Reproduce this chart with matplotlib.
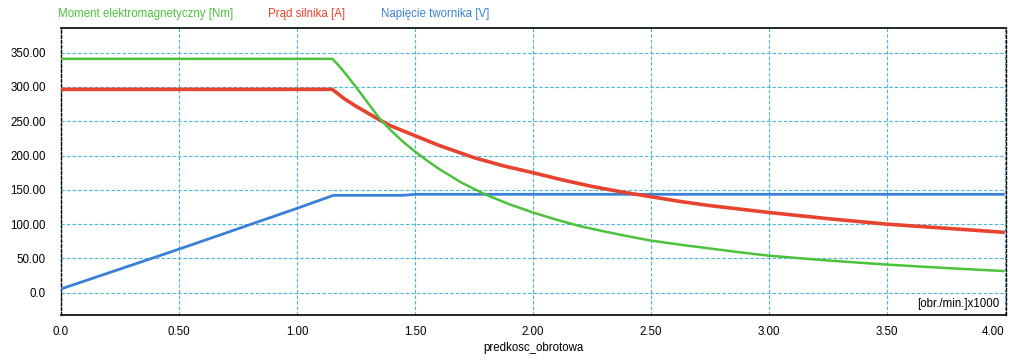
import matplotlib
matplotlib.use("Agg")
import matplotlib.pyplot as plt

plt.rcParams['font.family'] = ['Liberation Sans', 'DejaVu Sans']

# Moment elektromagnetyczny [Nm]
torque_x = [0.0, 1.15, 1.175, 1.2, 1.25, 1.3, 1.35, 1.4, 1.45, 1.5, 1.55, 1.6, 1.7, 1.8,
            1.9, 2.0, 2.1, 2.2, 2.3, 2.4, 2.5, 2.625, 2.75, 2.875, 3.0, 3.25,
            3.5, 3.75, 4.0]
torque_y = [341, 341, 332, 322, 300, 277, 254, 236, 220, 206, 193, 181, 160, 143,
            129, 117, 106.5, 97, 89.5, 82.5, 76, 70, 64.5, 59, 54, 47,
            41, 36, 31.5]

# Prąd silnika [A]
current_x = [0.0, 1.15, 1.2, 1.25, 1.3, 1.35, 1.4, 1.5, 1.6, 1.75, 1.875, 2.0, 2.125,
             2.25, 2.375, 2.5, 2.625, 2.75, 2.875, 3.0, 3.25, 3.5, 3.75, 4.0]
current_y = [296.5, 296.5, 283, 272, 262, 252, 243, 229, 215, 197, 185, 175, 164.5,
             155, 147, 140, 133, 127, 122, 117, 108, 100, 94, 88]

# Napięcie twornika [V]
voltage_x = [0.0, 0.5, 1.0, 1.155, 1.45, 1.5, 4.0]
voltage_y = [5.5, 63.5, 123, 142, 142, 143.5, 143.5]

xticks = [0.0, 0.5, 1.0, 1.5, 2.0, 2.5, 3.0, 3.5, 4.0]
xtick_labels = ["0.0", "0.50", "1.00", "1.50", "2.00", "2.50", "3.00", "3.50", "4.00"]
yticks = [0, 50, 100, 150, 200, 250, 300, 350]
ytick_labels = ["0.0", "50.00", "100.00", "150.00", "200.00", "250.00", "300.00", "350.00"]

legend_names = ["Moment elektromagnetyczny [Nm]", "Prąd silnika [A]", "Napięcie twornika [V]"]
c_green = "#4cc23c"
c_red = "#e8432e"
c_blue = "#3a80d8"
FS = 8.3

fig = plt.figure(figsize=(10.18, 3.62), dpi=100)
ax = fig.add_axes([61/1018, 1-315/362, (1006-61)/1018, (315-28)/362])
ax.set_xlim(0, 4.005)
ax.set_ylim(-32.5, 386)

# grid: faint pink dotted + cyan dashed
for xv in xticks:
    ax.axvline(xv, color="#fbe6e0", lw=1.0, ls=(0, (1, 1.5)), zorder=0)
    ax.axvline(xv, color="#45b6e0", lw=0.8, ls=(0, (3, 2.0)), zorder=1)
for yv in yticks:
    ax.axhline(yv, color="#fbe6e0", lw=1.0, ls=(0, (1, 1.5)), zorder=0)
    ax.axhline(yv, color="#45b6e0", lw=0.8, ls=(0, (3, 2.0)), zorder=1)

ax.plot(voltage_x, voltage_y, color=c_blue, lw=2.0, zorder=3, solid_capstyle='butt')
ax.plot(current_x, current_y, color=c_red, lw=2.6, zorder=4, solid_capstyle='butt')
ax.plot(torque_x, torque_y, color=c_green, lw=1.8, zorder=5, solid_capstyle='butt')

ax.set_xticks(xticks)
ax.set_xticklabels(xtick_labels, fontsize=FS)
ax.set_yticks(yticks)
ax.set_yticklabels(ytick_labels, fontsize=FS)
ax.tick_params(axis='both', length=0)
ax.tick_params(axis='y', pad=11)
ax.tick_params(axis='x', pad=8)
ax.get_xticklabels()[-1].set_horizontalalignment('right')

for side in ['top', 'bottom']:
    ax.spines[side].set_color('black')
    ax.spines[side].set_linewidth(1.2)
for side in ['left', 'right']:
    ax.spines[side].set_color('black')
    ax.spines[side].set_linewidth(1.0)
    ax.spines[side].set_linestyle((0, (2, 1.5)))

ax.set_xlabel("predkosc_obrotowa", fontsize=FS, labelpad=3)

fig.text(999/1018, 1-304/362, "[obr./min.]x1000", ha='right', va='center', fontsize=FS)

fig.text(58/1018, 1-14/362, legend_names[0], color=c_green, fontsize=FS, ha='left', va='center')
fig.text(268/1018, 1-14/362, legend_names[1], color=c_red, fontsize=FS, ha='left', va='center')
fig.text(381/1018, 1-14/362, legend_names[2], color=c_blue, fontsize=FS, ha='left', va='center')

fig.savefig("out.png", dpi=100)
